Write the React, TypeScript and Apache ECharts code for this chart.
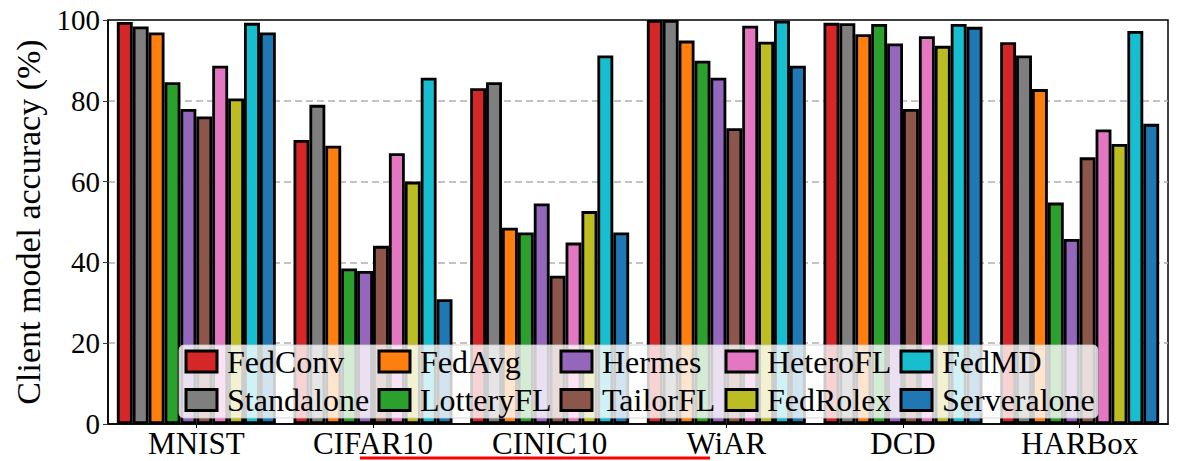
import React, { useEffect, useRef } from "react";
import * as echarts from "echarts";

// Datasets on the x axis
const datasets = ["MNIST", "CIFAR10", "CINIC10", "WiAR", "DCD", "HARBox"];

// Client model accuracy (%) per method, one value per dataset
const fedConv = [99.5, 70.3, 83.1, 100, 99.3, 94.5];
const standalone = [98.4, 79.0, 84.6, 100, 99.2, 91.2];
const fedAvg = [96.9, 68.9, 48.6, 94.9, 96.5, 82.9];
const lotteryFL = [84.6, 38.5, 47.4, 89.9, 99.0, 54.8];
const hermes = [78.0, 37.9, 54.6, 85.7, 94.2, 45.8];
const tailorFL = [76.1, 44.1, 36.7, 73.2, 78.0, 66.0];
const heteroFL = [88.7, 67.0, 44.9, 98.6, 96.0, 72.9];
const fedRolex = [80.6, 60.0, 52.7, 94.6, 93.6, 69.3];
const fedMD = [99.3, 85.7, 91.2, 99.8, 99.0, 97.3];
const serveralone = [96.9, 30.9, 47.4, 88.7, 98.3, 74.3];

const methodNames = [
  "FedConv",
  "Standalone",
  "FedAvg",
  "LotteryFL",
  "Hermes",
  "TailorFL",
  "HeteroFL",
  "FedRolex",
  "FedMD",
  "Serveralone",
];
const methodValues = [
  fedConv,
  standalone,
  fedAvg,
  lotteryFL,
  hermes,
  tailorFL,
  heteroFL,
  fedRolex,
  fedMD,
  serveralone,
];
const methodColors = [
  "#d62728",
  "#7f7f7f",
  "#ff7f0e",
  "#2ca02c",
  "#9467bd",
  "#8c564b",
  "#e377c2",
  "#bcbd22",
  "#17becf",
  "#1f77b4",
];

// Legend is laid out column by column (two entries per column)
const legendColumns = [
  ["FedConv", "Standalone"],
  ["FedAvg", "LotteryFL"],
  ["Hermes", "TailorFL"],
  ["HeteroFL", "FedRolex"],
  ["FedMD", "Serveralone"],
];
const legendColumnLeft = [184.5, 377.5, 559.5, 724.5, 899.5];

const yTicks = [0, 20, 40, 60, 80, 100];

const FONT = "'Liberation Serif', 'Times New Roman', serif";

export default function App() {
  const ref = useRef<HTMLDivElement>(null);

  useEffect(() => {
    if (!ref.current) return;
    const chart = echarts.init(ref.current, undefined, { renderer: "svg" });

    const series = methodNames.map((name, i) => ({
      name,
      type: "bar",
      data: methodValues[i],
      barGap: "0%",
      barCategoryGap: "10%",
      itemStyle: {
        color: methodColors[i],
        borderColor: "#000",
        borderWidth: 2.8,
      },
      z: 2,
    }));

    const legends = legendColumns.map((items, c) => ({
      data: items,
      orient: "vertical",
      left: legendColumnLeft[c],
      top: 345.5,
      padding: 0,
      itemGap: 6.5,
      itemWidth: 31,
      itemHeight: 21,
      icon: "rect",
      selectedMode: false,
      z: 20,
      itemStyle: { borderColor: "#000", borderWidth: 3 },
      textStyle: {
        fontFamily: FONT,
        fontSize: 32,
        color: "#000",
        padding: [0, 0, 0, 5],
      },
    }));

    chart.setOption({
      animation: false,
      backgroundColor: "#fff",
      grid: {
        left: 108,
        right: 10,
        top: 20,
        bottom: 37,
        show: true,
        borderColor: "#000",
        borderWidth: 1.5,
        backgroundColor: "transparent",
      },
      legend: legends,
      xAxis: {
        type: "category",
        data: datasets,
        axisLine: { show: true, lineStyle: { color: "#000", width: 1.5 } },
        axisTick: {
          show: true,
          alignWithLabel: true,
          length: 4,
          lineStyle: { color: "#000", width: 1 },
        },
        axisLabel: {
          fontFamily: FONT,
          fontSize: 31,
          color: "#000",
          margin: 4,
        },
      },
      yAxis: {
        type: "value",
        min: yTicks[0],
        max: yTicks[yTicks.length - 1],
        interval: 20,
        name: "Client model accuracy (%)",
        nameLocation: "middle",
        nameGap: 63,
        nameTextStyle: { fontFamily: FONT, fontSize: 34, color: "#000" },
        axisLine: { show: true, lineStyle: { color: "#000", width: 1.5 } },
        axisTick: { show: true, length: 5, lineStyle: { color: "#333", width: 1 } },
        axisLabel: {
          fontFamily: FONT,
          fontSize: 29,
          color: "#000",
          margin: 8,
        },
        splitLine: {
          show: true,
          showMinLine: false,
          showMaxLine: false,
          lineStyle: { color: "#b0b0b0", width: 1.5, type: [7, 4] },
        },
      },
      graphic: [
        {
          type: "rect",
          shape: { x: 179, y: 345, width: 919, height: 73, r: 5 },
          style: {
            fill: "rgba(255,255,255,0.8)",
            stroke: "rgba(204,204,204,0.8)",
            lineWidth: 1,
          },
          z: 10,
        },
        {
          type: "line",
          shape: { x1: 360, y1: 458, x2: 710, y2: 458 },
          style: { stroke: "#ff0000", lineWidth: 3 },
          z: 10,
        },
      ],
      series,
    });

    return () => chart.dispose();
  }, []);

  return (
    <div
      ref={ref}
      style={{ position: "fixed", left: 0, top: 0, width: 1178, height: 461 }}
    />
  );
}
